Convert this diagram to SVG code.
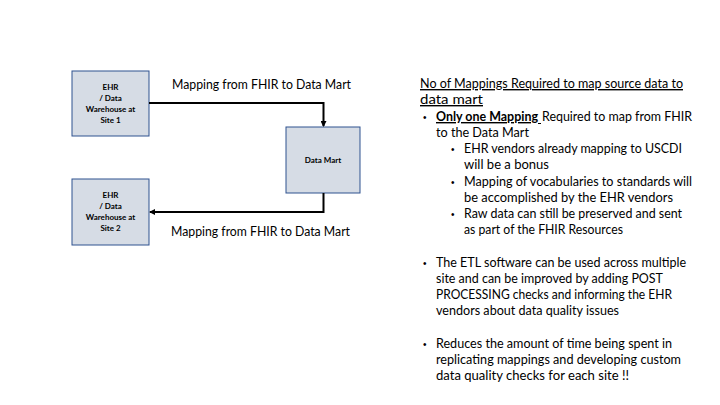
<svg xmlns="http://www.w3.org/2000/svg" width="720" height="405" viewBox="0 0 720 405">
<defs>
<marker id="ah" markerWidth="6" markerHeight="6" refX="5" refY="3" orient="auto" markerUnits="userSpaceOnUse">
<path d="M0,0 L6,3 L0,6 Z" fill="#000"/>
</marker>
<style>
.box{fill:#d6dce5;stroke:#2f528f;stroke-width:1}
.bt{font-family:Lato,"Open Sans",sans-serif;font-size:8px;font-weight:bold;fill:#000;text-anchor:middle}
.lbl{font-family:Lato,"Open Sans",sans-serif;font-size:13.5px;fill:#000}
.tx{font-family:Lato,"Open Sans",sans-serif;font-size:14px;fill:#000}
.u{text-decoration:underline}
.b{font-family:"Liberation Sans",sans-serif;font-size:10px;fill:#000}
.conn{fill:none;stroke:#000;stroke-width:2}
</style>
</defs>
<rect width="720" height="405" fill="#fff"/>
<g id="site1">
<rect class="box" x="72" y="71" width="77" height="65"/>
<text class="bt" x="110.5" y="89.5">EHR</text>
<text class="bt" x="110.5" y="100.5">/ Data</text>
<text class="bt" x="110.5" y="111.5">Warehouse at</text>
<text class="bt" x="110.5" y="122.5">Site 1</text>
</g>
<g id="datamart">
<rect class="box" x="286" y="127" width="74" height="66"/>
<text class="bt" x="323" y="163">Data Mart</text>
</g>
<g id="site2">
<rect class="box" x="72" y="179" width="77" height="66"/>
<text class="bt" x="110.5" y="198">EHR</text>
<text class="bt" x="110.5" y="209">/ Data</text>
<text class="bt" x="110.5" y="220">Warehouse at</text>
<text class="bt" x="110.5" y="231">Site 2</text>
</g>
<g id="connectors">
<path class="conn" d="M149,103 H323.5 V126" marker-end="url(#ah)"/>
<path class="conn" d="M323.5,193 V212 H150" marker-end="url(#ah)"/>
<text class="lbl" x="172" y="89" textLength="179" lengthAdjust="spacingAndGlyphs">Mapping from FHIR to Data Mart</text>
<text class="lbl" x="171" y="236" textLength="179" lengthAdjust="spacingAndGlyphs">Mapping from FHIR to Data Mart</text>
</g>
<g id="notes">
<text class="tx u" x="420" y="88" textLength="263" lengthAdjust="spacingAndGlyphs">No of Mappings Required to map source data to</text>
<text class="tx u" x="420" y="104" textLength="63" lengthAdjust="spacingAndGlyphs">data mart</text>

<text class="b" x="423" y="121">•</text>
<text class="tx u" x="436" y="121" font-weight="bold" textLength="102" lengthAdjust="spacingAndGlyphs">Only one Mapping</text>
<line x1="538" y1="123.5" x2="541" y2="123.5" stroke="#000" stroke-width="1"/>
<text class="tx" x="542" y="121" textLength="150" lengthAdjust="spacingAndGlyphs">Required to map from FHIR</text>
<text class="tx" x="436" y="137" textLength="93" lengthAdjust="spacingAndGlyphs">to the Data Mart</text>

<text class="b" x="451" y="153">•</text>
<text class="tx" x="464" y="153" textLength="218" lengthAdjust="spacingAndGlyphs">EHR vendors already mapping to USCDI</text>
<text class="tx" x="464" y="169" textLength="85" lengthAdjust="spacingAndGlyphs">will be a bonus</text>
<text class="b" x="451" y="186">•</text>
<text class="tx" x="464" y="186" textLength="228" lengthAdjust="spacingAndGlyphs">Mapping of vocabularies to standards will</text>
<text class="tx" x="464" y="202" textLength="209" lengthAdjust="spacingAndGlyphs">be accomplished by the EHR vendors</text>
<text class="b" x="451" y="218">•</text>
<text class="tx" x="464" y="218" textLength="218" lengthAdjust="spacingAndGlyphs">Raw data can still be preserved and sent</text>
<text class="tx" x="464" y="234" textLength="159" lengthAdjust="spacingAndGlyphs">as part of the FHIR Resources</text>

<text class="b" x="423" y="267">•</text>
<text class="tx" x="436" y="267" textLength="250" lengthAdjust="spacingAndGlyphs">The ETL software can be used across multiple</text>
<text class="tx" x="436" y="283" textLength="227" lengthAdjust="spacingAndGlyphs">site and can be improved by adding POST</text>
<text class="tx" x="436" y="299" textLength="236" lengthAdjust="spacingAndGlyphs">PROCESSING checks and informing the EHR</text>
<text class="tx" x="436" y="315" textLength="183" lengthAdjust="spacingAndGlyphs">vendors about data quality issues</text>

<text class="b" x="423" y="348">•</text>
<text class="tx" x="436" y="348" textLength="236" lengthAdjust="spacingAndGlyphs">Reduces the amount of time being spent in</text>
<text class="tx" x="436" y="364" textLength="245" lengthAdjust="spacingAndGlyphs">replicating mappings and developing custom</text>
<text class="tx" x="436" y="380" textLength="193" lengthAdjust="spacingAndGlyphs">data quality checks for each site !!</text>
</g>
</svg>
